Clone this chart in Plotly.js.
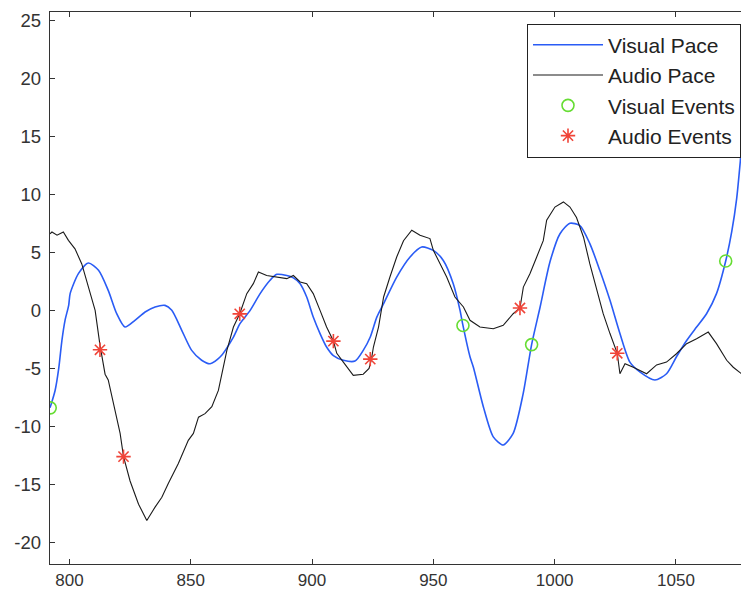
<!DOCTYPE html>
<html>
<head>
<meta charset="utf-8">
<script src="https://cdn.plot.ly/plotly-3.0.1.min.js"></script>
<style>html,body{margin:0;padding:0;background:#fff;}#chart{width:742px;height:589px;}</style>
</head>
<body>
<div id="chart"></div>
<script>
// Visual Pace (blue)
const visualX = [792.0, 794.1, 795.6, 796.9, 798.2, 799.7, 800.3, 803.7, 807.8, 812.0, 816.0, 819.5, 822.9, 827.0, 831.2, 835.3, 839.4, 842.2, 846.3, 850.4, 854.5, 858.0, 862.2, 867.6, 870.3, 874.5, 878.6, 882.7, 885.5, 889.6, 892.3, 895.1, 897.8, 900.5, 903.3, 906.0, 908.8, 912.9, 917.7, 921.1, 924.0, 926.7, 929.5, 934.9, 940.4, 945.2, 950.0, 954.1, 958.2, 961.0, 962.2, 965.1, 966.5, 970.6, 974.7, 978.8, 982.9, 987.0, 990.5, 994.0, 998.1, 1002.2, 1006.3, 1010.4, 1014.5, 1018.6, 1022.8, 1026.9, 1031.0, 1035.1, 1041.3, 1046.1, 1050.2, 1054.4, 1058.5, 1062.6, 1066.7, 1070.5, 1073.0, 1075.0, 1076.5, 1078.0];
const visualY = [-8.4, -6.9, -5.0, -2.6, -0.86, 0.43, 1.44, 3.16, 4.08, 3.45, 1.72, -0.29, -1.44, -0.86, -0.14, 0.29, 0.43, 0.0, -1.72, -3.45, -4.3, -4.6, -4.0, -2.3, -1.15, 0.0, 1.44, 2.59, 3.1, 3.0, 2.8, 2.3, 1.15, -0.58, -2.0, -3.16, -3.9, -4.3, -4.37, -3.45, -2.3, -0.58, 0.58, 2.87, 4.6, 5.46, 5.17, 4.3, 2.3, 0.0, -1.3, -4.0, -4.9, -8.3, -10.9, -11.6, -10.6, -7.2, -2.95, 0.29, 4.2, 6.6, 7.5, 7.3, 5.75, 3.45, 0.86, -2.0, -4.46, -5.3, -6.0, -5.46, -4.0, -2.6, -1.44, -0.29, 1.44, 4.25, 6.8, 9.6, 12.8, 16.5];

// Audio Pace (black)
const audioX = [792.0, 792.8, 794.9, 797.5, 799.6, 802.3, 805.1, 807.8, 810.6, 812.6, 814.7, 816.0, 818.8, 820.9, 822.3, 825.0, 828.5, 831.9, 835.3, 838.1, 840.8, 844.9, 849.0, 851.1, 853.2, 855.9, 858.7, 861.4, 864.9, 867.6, 870.2, 873.1, 875.8, 877.9, 881.3, 885.5, 889.6, 892.3, 895.1, 897.8, 900.5, 903.3, 906.0, 908.8, 910.2, 912.9, 917.0, 921.1, 923.5, 924.5, 925.3, 927.4, 929.5, 932.1, 934.9, 937.7, 941.1, 944.5, 948.6, 950.0, 952.7, 955.5, 958.9, 962.4, 965.1, 969.2, 974.7, 978.8, 982.9, 985.7, 987.1, 989.8, 992.6, 995.3, 996.7, 1000.1, 1003.6, 1006.3, 1009.0, 1011.9, 1014.5, 1017.3, 1020.0, 1022.8, 1025.8, 1026.9, 1029.0, 1032.4, 1037.9, 1042.0, 1046.1, 1050.2, 1054.4, 1058.5, 1063.3, 1066.7, 1070.9, 1073.6, 1077.0];
const audioY = [6.6, 6.75, 6.47, 6.75, 6.03, 5.3, 4.0, 2.0, 0.0, -3.0, -5.5, -6.0, -8.6, -10.6, -12.6, -14.7, -16.7, -18.1, -16.95, -16.1, -14.9, -13.2, -11.2, -10.6, -9.2, -8.9, -8.3, -6.9, -3.45, -1.44, -0.29, 1.44, 2.3, 3.3, 3.0, 2.87, 2.73, 3.0, 2.44, 2.3, 1.44, 0.0, -1.44, -2.64, -3.7, -4.46, -5.6, -5.5, -5.0, -4.2, -3.16, -1.44, 1.15, 2.87, 4.6, 6.0, 6.9, 6.47, 6.18, 5.17, 4.0, 2.87, 1.15, 0.29, -0.86, -1.44, -1.58, -1.29, -0.29, 0.2, 2.0, 3.16, 4.6, 6.0, 7.76, 8.9, 9.34, 8.9, 8.0, 6.3, 4.0, 1.72, -0.29, -2.0, -3.7, -5.46, -4.6, -4.9, -5.46, -4.7, -4.46, -3.74, -2.87, -2.44, -1.87, -2.87, -4.3, -4.9, -5.46];

// Events
const visualEventX = [792.1, 962.2, 990.5, 1070.5];
const visualEventY = [-8.4, -1.3, -2.95, 4.25];
const audioEventX = [812.6, 822.3, 870.2, 908.8, 924.0, 985.7, 1025.8];
const audioEventY = [-3.4, -12.6, -0.3, -2.65, -4.2, 0.2, -3.7];

const seriesNames = ['Visual Pace', 'Audio Pace', 'Visual Events', 'Audio Events'];
const xTicks = [800, 850, 900, 950, 1000, 1050];
const yTicks = [-20, -15, -10, -5, 0, 5, 10, 15, 20, 25];

const lbl = s => '<span style="font-size:21px">' + s + '</span>';

const traces = [
  {x: visualX, y: visualY, mode: 'lines', name: lbl(seriesNames[0]),
   line: {color: '#2a5cf5', width: 1.6, shape: 'spline', smoothing: 0.7}},
  {x: audioX, y: audioY, mode: 'lines', name: lbl(seriesNames[1]),
   line: {color: '#1a1a1a', width: 1.1}},
  {x: visualEventX, y: visualEventY, mode: 'markers', name: lbl(seriesNames[2]),
   marker: {symbol: 'circle-open', size: 12, color: '#66dd33', line: {width: 1.6, color: '#66dd33'}}},
  {x: audioEventX, y: audioEventY, mode: 'markers', name: lbl(seriesNames[3]),
   marker: {symbol: 'asterisk-open', size: 12, color: '#f04438', line: {width: 1.6, color: '#f04438'}}}
];

const yFont = {family: 'Liberation Sans, Arial, sans-serif', size: 18.5, color: '#333'};
const xFont = {family: 'Liberation Sans, Arial, sans-serif', size: 17, color: '#333'};

const layout = {
  width: 742, height: 589,
  margin: {l: 50, r: 1, t: 12, b: 25, pad: 0},
  paper_bgcolor: '#fff', plot_bgcolor: '#fff',
  showlegend: true,
  legend: {
    x: 1, xanchor: 'right', y: 0.979, yanchor: 'top',
    bgcolor: '#fff', bordercolor: '#222', borderwidth: 1,
    font: {family: 'Liberation Sans, Arial, sans-serif', size: 21, color: '#222'},
    itemwidth: 70, tracegroupgap: 0
  },
  xaxis: {
    range: [792, 1076.8], tickvals: xTicks, ticktext: xTicks.map(String),
    showgrid: false, zeroline: false, showline: true, linecolor: '#333', linewidth: 1.2,
    mirror: 'ticks', ticks: 'inside', ticklen: 5, tickcolor: '#333', tickwidth: 1,
    tickfont: xFont, automargin: false, ticklabelstandoff: 0
  },
  yaxis: {
    range: [-21.85, 25.7], tickvals: yTicks, ticktext: yTicks.map(String),
    showgrid: false, zeroline: false, showline: true, linecolor: '#333', linewidth: 1.2,
    mirror: false, ticks: 'inside', ticklen: 5, tickcolor: '#333', tickwidth: 1,
    tickfont: yFont, automargin: false, ticklabelstandoff: 4
  }
};

Plotly.newPlot('chart', traces, layout, {displayModeBar: false, staticPlot: true});
</script>
</body>
</html>
